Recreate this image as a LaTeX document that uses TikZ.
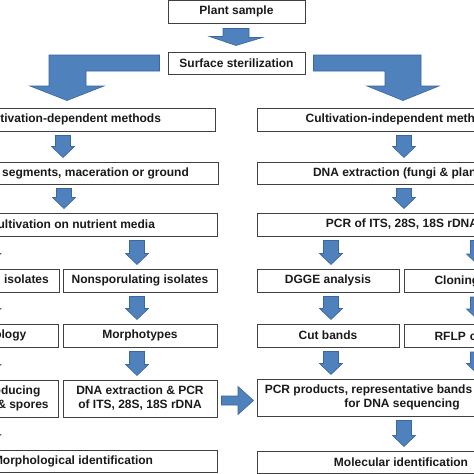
\documentclass[tikz,border=0pt]{standalone}
\usepackage{fontspec}
\setmainfont{Liberation Sans}
\usetikzlibrary{calc}
\definecolor{arrowfill}{HTML}{4F81BD}
\definecolor{arrowline}{HTML}{3B679E}
\definecolor{boxline}{HTML}{404040}
\definecolor{txtcol}{HTML}{1A1A1A}
\tikzset{
  box/.style={draw=boxline, line width=1pt, fill=white, text=txtcol,
    font=\fontsize{12}{14}\selectfont\bfseries, inner sep=0pt, align=center},
  blockarrow/.style={fill=arrowfill, draw=arrowline, line width=0.6pt, line join=miter}
}
% name, left, right, top, bottom, text  (pixel coordinates, y downward)
\newcommand\bx[6]{\node[box, minimum width={(#3)-(#2)}, minimum height={(#5)-(#4)}]
  (#1) at ({((#2)+(#3))/2},{-((#4)+(#5))/2}) {#6};}
% small downward block arrow: from node, to node, x
\newcommand\darr[3]{\path[blockarrow]
  ($(#3,0 |- #1.south)+(-7.5,-4)$) -- ++(15,0)
  -- ($(#3,0 |- #2.north)+(7.5,15)$) -- ++(4,0)
  -- ($(#3,0 |- #2.north)+(0,4)$) -- ++(-11.5,11) -- ++(4,0) -- cycle;}
\begin{document}
\begin{tikzpicture}[x=1pt,y=1pt]
\useasboundingbox (0,0) rectangle (474,-474);
\clip (0,0) rectangle (474,-474);
\fill[white] (0,0) rectangle (474,-474);

\bx{plant}{168}{305}{0.5}{23}{Plant sample}
\bx{surf}{168}{305}{52}{74}{Surface sterilization}
\bx{cdep}{-73}{215}{108}{131}{Cultivation-dependent methods}
\bx{cind}{257}{545}{108}{131}{Cultivation-independent methods}
\bx{tissue}{-68}{218}{162}{184}{Tissue segments, maceration or ground}
\bx{dnaext}{257}{547}{162}{184}{DNA extraction (fungi \& plants)}
\bx{cultiv}{-73}{217}{213}{236}{Cultivation on nutrient media}
\bx{pcrits}{257}{547}{213}{236}{PCR of ITS, 28S, 18S rDNA}
\bx{spor}{-76}{59}{269}{292}{Sporulating isolates}
\bx{nonspor}{63}{217}{269}{292}{Nonsporulating isolates}
\bx{dgge}{257}{399}{269}{292}{DGGE analysis}
\node[box, anchor=north west, minimum height=23, text width=110pt, align=left, inner xsep=30pt]
  (clon) at (404,-269) {Cloning};
\bx{morph}{-74}{58}{324}{347}{Morphology}
\bx{morphot}{63}{217}{324}{347}{Morphotypes}
\bx{cutb}{257}{399}{324}{347}{Cut bands}
\node[box, anchor=north west, minimum height=23, text width=110pt, align=left, inner xsep=30pt]
  (rflp) at (404,-324) {RFLP clones};
\bx{spore}{-74}{58}{380}{417}{Spore-producing\\structures \& spores}
\bx{dnapcr}{63}{217}{380}{417}{DNA extraction \& PCR\\of ITS, 28S, 18S rDNA}
\bx{pcrprod}{257}{547}{379}{416}{PCR products, representative bands\hspace*{67pt}\\for DNA sequencing}
\bx{morphid}{-71}{217}{450}{472}{Morphological identification}
\bx{molid}{257}{545}{451}{473}{Molecular identification}

% plant -> surface
\path[blockarrow] ($(236,0 |- plant.south)+(-13,-5)$) -- ++(26,0) -- ++(0,-9) -- ++(13.5,0)
  -- ($(236,0 |- surf.north)+(0,6)$) -- ++(-26.5,9) -- ++(13.5,0) -- cycle;
% surface -> cultivation-dependent (L-shaped)
\path[blockarrow] ($(surf.west)+(-8,8)$) -- (49,-55) -- (49,-86) -- (30,-86)
  -- ($(67,0 |- cdep.north)+(0,7)$) -- (104,-86) -- (86,-86) -- (86,-71)
  -- ($(surf.west)+(-8,-8)$) -- cycle;
% surface -> cultivation-independent (L-shaped)
\path[blockarrow] ($(surf.east)+(8,8)$) -- (421,-55) -- (421,-86) -- (439,-86)
  -- ($(403,0 |- cind.north)+(0,7)$) -- (367,-86) -- (385,-86) -- (385,-71)
  -- ($(surf.east)+(8,-8)$) -- cycle;

\darr{cdep}{tissue}{63}
\darr{tissue}{cultiv}{64}
\darr{cind}{dnaext}{404}
\darr{dnaext}{pcrits}{404}
\darr{cultiv}{spor}{-10.5}
\darr{cultiv}{nonspor}{137}
\darr{spor}{morph}{-10.5}
\darr{nonspor}{morphot}{137}
\darr{morph}{spore}{-10.5}
\darr{morphot}{dnapcr}{137}
\darr{spore}{morphid}{-10.5}
\darr{pcrits}{dgge}{331}
\darr{pcrits}{clon}{478}
\darr{dgge}{cutb}{331}
\darr{clon}{rflp}{478}
\darr{cutb}{pcrprod}{331}
\darr{rflp}{pcrprod}{478}
\darr{pcrprod}{molid}{404}

% DNA extraction & PCR -> PCR products
\path[blockarrow] ($(dnapcr.east |- 0,-396)+(4,0)$) -- (238,-396) -- (238,-386.5)
  -- ($(pcrprod.west |- 0,-400.5)+(-3,0)$) -- (238,-414.5) -- (238,-405)
  -- ($(dnapcr.east |- 0,-405)+(4,0)$) -- cycle;
\end{tikzpicture}
\end{document}
